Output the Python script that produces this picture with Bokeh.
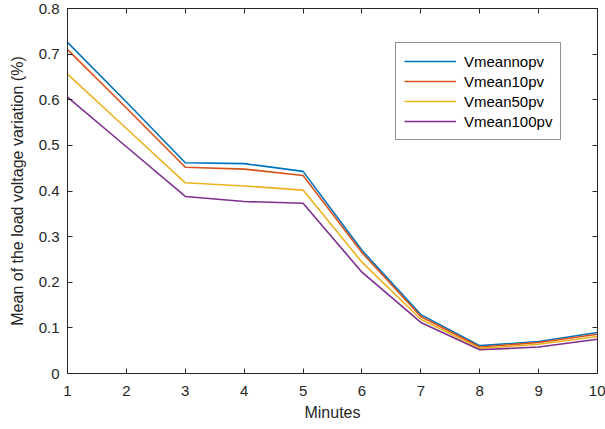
from bokeh.plotting import figure
from bokeh.models import Range1d, LinearAxis, FixedTicker, Legend, LegendItem, CustomLabelingPolicy
from bokeh.embed import file_html
from bokeh.resources import INLINE

minutes = [1, 2, 3, 4, 5, 6, 7, 8, 9, 10]
v_nopv = [0.726, 0.595, 0.462, 0.460, 0.443, 0.270, 0.129, 0.061, 0.070, 0.090]
v_10pv = [0.710, 0.582, 0.452, 0.448, 0.434, 0.265, 0.125, 0.058, 0.068, 0.086]
v_50pv = [0.656, 0.537, 0.418, 0.411, 0.402, 0.244, 0.119, 0.055, 0.064, 0.081]
v_100pv = [0.606, 0.497, 0.388, 0.377, 0.373, 0.222, 0.112, 0.052, 0.058, 0.075]
series_names = ["Vmeannopv", "Vmean10pv", "Vmean50pv", "Vmean100pv"]
colors = ["#0072BD", "#D95319", "#EDB120", "#7E2F8E"]
y_ticks = [0, 0.1, 0.2, 0.3, 0.4, 0.5, 0.6, 0.7, 0.8]
x_ticks = minutes

FONT = "Liberation Sans"
AX = "#262626"

p = figure(width=605, height=429, output_backend="svg", toolbar_location=None,
           x_range=Range1d(1, 10), y_range=Range1d(0, 0.8),
           min_border_left=67, min_border_right=8, min_border_top=8, min_border_bottom=56)
p.xgrid.visible = False
p.ygrid.visible = False
p.outline_line_color = AX
p.outline_line_width = 1
p.background_fill_color = "white"
p.border_fill_color = "white"

renderers = []
for ys, c in zip([v_nopv, v_10pv, v_50pv, v_100pv], colors):
    r = p.line(minutes, ys, line_color=c, line_width=1.6)
    renderers.append(r)

def style_axis(ax, ticks, labels=True):
    ax.ticker = FixedTicker(ticks=ticks)
    ax.minor_tick_line_color = None
    ax.major_tick_in = 5
    ax.major_tick_out = 0
    ax.axis_line_color = AX
    ax.major_tick_line_color = AX
    ax.major_label_text_font = FONT
    ax.major_label_text_color = AX
    ax.major_label_text_font_size = "15px" if labels else "1px"
    ax.axis_label_text_font = FONT
    ax.axis_label_text_font_style = "normal"
    ax.axis_label_text_color = AX
    ax.axis_label_text_font_size = "16px"
    if not labels:
        ax.major_label_policy = CustomLabelingPolicy(code="return new Set()")
        ax.major_label_standoff = 0

xa = p.xaxis[0]
style_axis(xa, x_ticks)
xa.axis_label = "Minutes"
xa.major_label_standoff = 12
xa.axis_label_standoff = 5

ya = p.yaxis[0]
style_axis(ya, y_ticks)
ya.axis_label = "Mean of the load voltage variation (%)"
ya.major_label_overrides = {0: "0"}
ya.major_label_standoff = 8
ya.axis_label_standoff = 10

top = LinearAxis()
style_axis(top, x_ticks, labels=False)
p.add_layout(top, "above")
right = LinearAxis()
style_axis(right, y_ticks, labels=False)
p.add_layout(right, "right")

items = [LegendItem(label=n, renderers=[r]) for n, r in zip(series_names, renderers)]
legend = Legend(items=items, location=(328, 233))
legend.label_text_font = FONT
legend.label_text_font_size = "15px"
legend.label_text_color = "#000000"
legend.glyph_width = 52
legend.glyph_height = 20
legend.label_height = 20
legend.spacing = 0
legend.padding = 8
legend.margin = 0
legend.label_standoff = 8
legend.border_line_color = AX
legend.border_line_width = 1
legend.background_fill_color = "white"
p.add_layout(legend, "center")

open("out.html", "w").write(file_html(p, INLINE))
